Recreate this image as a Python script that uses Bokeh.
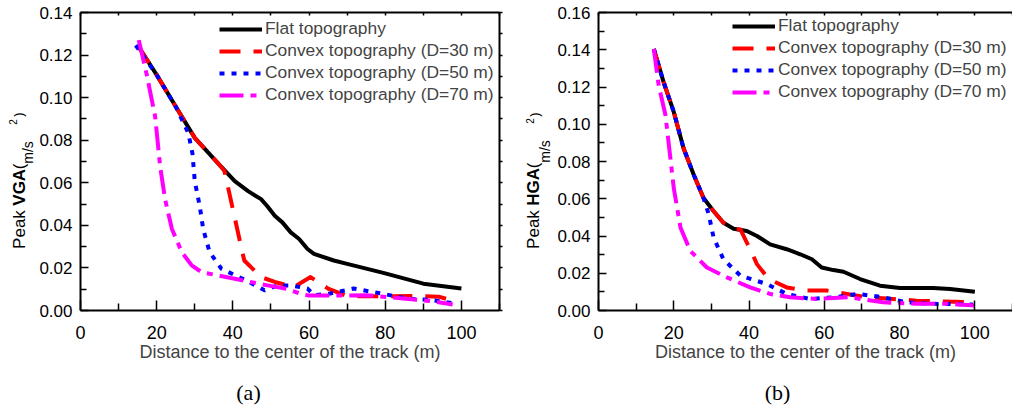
import math
from bokeh.plotting import figure
from bokeh.layouts import row, column
from bokeh.models import (Range1d, LinearAxis, FixedTicker, Label, Legend,
                          LegendItem, NumeralTickFormatter, CustomJSTickFormatter)
from bokeh.embed import file_html
from bokeh.resources import INLINE

# ---------------- data ----------------
x_ticks = [0, 20, 40, 60, 80, 100]
x_minor = [10, 30, 50, 70, 90, 110]
y_ticks_a = [0.00, 0.02, 0.04, 0.06, 0.08, 0.10, 0.12, 0.14]
y_ticks_b = [0.00, 0.02, 0.04, 0.06, 0.08, 0.10, 0.12, 0.14, 0.16]

series_names = ["Flat topography", "Convex topography (D=30 m)",
                "Convex topography (D=50 m)", "Convex topography (D=70 m)"]
captions = ["(a)", "(b)"]

# (a) Peak VGA
flat_x_a = [15, 20, 25, 30, 36, 40.5, 44, 47.4, 49, 51, 53, 55.2, 57.4, 59.6, 61.3, 66.5, 70, 79.5, 90, 100]
flat_y_a = [0.1246, 0.1107, 0.0958, 0.0811, 0.0694, 0.0608, 0.0561, 0.0523, 0.0491, 0.0445, 0.0414,
            0.0367, 0.0336, 0.0289, 0.0266, 0.0235, 0.0219, 0.0177, 0.0126, 0.0103]
d30_x_a = [15, 20, 25, 30, 36, 37.8, 42, 43, 47.4, 51, 56, 60.4, 65, 70, 80, 88, 94, 98]
d30_y_a = [0.1246, 0.1107, 0.0958, 0.0811, 0.0694, 0.0655, 0.0313, 0.0235, 0.0157, 0.0134, 0.0110,
           0.0157, 0.0103, 0.0067, 0.0067, 0.0068, 0.0065, 0.0045]
d50_x_a = [14.5, 20, 25, 28.3, 29.4, 30, 31.3, 32.2, 33.9, 37, 43.5, 48.3, 51.7, 55.2, 59.6, 61.3,
           65.6, 71.7, 79, 85.6, 92, 98.2]
d50_y_a = [0.1246, 0.1107, 0.0958, 0.0834, 0.0737, 0.0608, 0.0491, 0.0383, 0.0274, 0.0196, 0.0141,
           0.0095, 0.0118, 0.0118, 0.0103, 0.0072, 0.0080, 0.0103, 0.0080, 0.0056, 0.0049, 0.0033]
d70_x_a = [15.3, 17.4, 19.6, 20.9, 22.2, 24, 26.6, 29.2, 31.8, 40.5, 49.1, 53.7, 57.8, 60, 66.5,
           75, 84, 93, 97.7]
d70_y_a = [0.127, 0.1107, 0.0911, 0.0678, 0.0523, 0.0383, 0.0274, 0.0212, 0.018, 0.0149, 0.0118,
           0.0103, 0.0079, 0.007, 0.007, 0.0072, 0.0058, 0.0042, 0.0028]

# (b) Peak HGA
flat_x_b = [14.7, 17.3, 20, 22.6, 25.3, 27.9, 30.6, 33.2, 35.9, 39.4, 42.1, 45.6, 50, 53.6, 56.7,
            59.3, 62.4, 65.1, 69.5, 74.8, 80.1, 88.9, 93.4, 100]
flat_y_b = [0.1404, 0.1226, 0.1066, 0.0871, 0.0729, 0.0604, 0.0533, 0.0471, 0.0439, 0.0427, 0.040,
            0.0355, 0.0329, 0.0302, 0.0275, 0.0231, 0.0217, 0.0208, 0.0169, 0.0133, 0.0121, 0.0121,
            0.0116, 0.0101]
d30_x_b = [14.7, 17.3, 20, 22.6, 25.3, 27.9, 30.6, 33.2, 35.9, 37.7, 40.3, 42.1, 45.2, 50, 55.3,
           60.6, 66, 71.2, 75.6, 84.5, 91.5, 99.9]
d30_y_b = [0.1404, 0.1226, 0.1066, 0.0871, 0.0729, 0.0604, 0.0533, 0.0471, 0.0439, 0.0435, 0.0329,
           0.0249, 0.0169, 0.0124, 0.0107, 0.0107, 0.0089, 0.0071, 0.0066, 0.0053, 0.0048, 0.0044]
d50_x_b = [14.7, 17.3, 20, 22.6, 25.3, 27.9, 29.3, 30.6, 33.2, 37.7, 44.7, 50, 56.2, 63, 69, 75.6,
           81.8, 88.9, 99.5]
d50_y_b = [0.1404, 0.1226, 0.1066, 0.0871, 0.0729, 0.0604, 0.0515, 0.039, 0.0275, 0.0187, 0.0142,
           0.0089, 0.0062, 0.0071, 0.0089, 0.0071, 0.0044, 0.0036, 0.0032]
d70_x_b = [14.7, 16, 17.8, 19.1, 20, 21.8, 24.4, 28.8, 34.1, 40.3, 45.6, 50.9, 57.9, 66.7, 75.6,
           84.5, 93.4, 100]
d70_y_b = [0.1404, 0.1208, 0.1048, 0.0817, 0.0657, 0.0444, 0.032, 0.0231, 0.0178, 0.0124, 0.0089,
           0.0071, 0.0062, 0.0071, 0.0044, 0.0036, 0.0036, 0.0027]

FONT = "Liberation Sans"
W = 1012
H = 408          # whole page
H_TOP = 374      # plots row
H_CAP = H - H_TOP


def make_panel(xs, ys, y_max, y_ticks, width, min_left, min_right, min_top, min_bottom,
               legend_loc, right_axis):
    p = figure(width=width, height=H_TOP, output_backend="svg", toolbar_location=None,
               x_range=Range1d(0, 110), y_range=Range1d(0, y_max),
               min_border_left=min_left, min_border_right=min_right,
               min_border_top=min_top, min_border_bottom=min_bottom,
               x_axis_location=None, y_axis_location=None)
    p.outline_line_color = None
    p.xgrid.visible = False
    p.ygrid.visible = False
    y_minor = [round(t + 0.01, 3) for t in y_ticks]
    blank = CustomJSTickFormatter(code="return ''")

    def style(ax, labels, fs):
        ax.axis_line_width = 2
        ax.axis_line_color = "black"
        ax.major_tick_line_width = 1.5
        ax.minor_tick_line_width = 1.5
        ax.major_label_text_font = FONT
        ax.major_label_text_font_size = fs
        ax.major_label_text_color = "black"
        if not labels:
            ax.formatter = blank

    bottom = LinearAxis(ticker=FixedTicker(ticks=x_ticks, minor_ticks=x_minor))
    style(bottom, True, "18px")
    bottom.major_tick_in, bottom.major_tick_out = 10, 0
    bottom.minor_tick_in, bottom.minor_tick_out = 7, 0
    bottom.major_label_standoff = 15
    bottom.axis_label = "Distance to the center of the track (m)"
    bottom.axis_label_text_font = FONT
    bottom.axis_label_text_font_size = "18px"
    bottom.axis_label_text_font_style = "normal"
    bottom.axis_label_standoff = 0
    p.add_layout(bottom, "below")

    left = LinearAxis(ticker=FixedTicker(ticks=y_ticks, minor_ticks=y_minor),
                      formatter=NumeralTickFormatter(format="0.00"))
    style(left, True, "17px")
    left.major_tick_in, left.major_tick_out = 8, 0
    left.minor_tick_in, left.minor_tick_out = 6, 0
    left.major_label_standoff = 8
    p.add_layout(left, "left")

    top = LinearAxis(ticker=FixedTicker(ticks=x_ticks, minor_ticks=x_minor))
    style(top, False, "17px")
    top.major_tick_in, top.major_tick_out = 3, 0
    top.minor_tick_in, top.minor_tick_out = 3, 0
    top.major_label_standoff = 0
    p.add_layout(top, "above")

    if right_axis:
        right = LinearAxis(ticker=FixedTicker(ticks=y_ticks, minor_ticks=y_minor))
        style(right, False, "17px")
        right.major_tick_in, right.major_tick_out = 0, 3
        right.minor_tick_in, right.minor_tick_out = 0, 3
        right.major_label_standoff = 0
        p.add_layout(right, "right")

    colors = ["black", "#ff0000", "#0000ff", "#ff00ff"]
    dashes = ["solid", "21 13", "5 7", "24 7 6 7"]
    rends = []
    for x, y, c, d in zip(xs, ys, colors, dashes):
        rends.append(p.line(x, y, line_color=c, line_width=4, line_dash=d, line_join="round"))

    legend = Legend(items=[LegendItem(label=n, renderers=[r]) for n, r in zip(series_names, rends)],
                    location=legend_loc, orientation="vertical",
                    label_text_font=FONT, label_text_font_size="17.4px",
                    glyph_width=43, glyph_height=20, label_height=20, label_standoff=3,
                    spacing=1, padding=0, margin=0,
                    border_line_color=None, background_fill_alpha=0)
    p.add_layout(legend)
    return p


def text_strip(width, height, top, bottom_border, y_top_px):
    """Axis-less figure whose ranges are page pixels, used only to hold text."""
    f = figure(width=width, height=height, output_backend="svg", toolbar_location=None,
               x_range=Range1d(0, width),
               y_range=Range1d(y_top_px + height - top - bottom_border, y_top_px),
               min_border_left=0, min_border_right=0,
               min_border_top=top, min_border_bottom=bottom_border,
               x_axis_location=None, y_axis_location=None)
    f.outline_line_color = None
    f.xgrid.visible = False
    f.ygrid.visible = False
    f.background_fill_color = None
    f.border_fill_color = None
    return f


def make_ylabel(width, top, bottom_border, qty, base_x, start_y, sub_x, sup2_x, sup2_y,
                par_x, par_y):
    # frame rows match the neighbouring plot; x values are centre lines of rotated text
    f = text_strip(width, H_TOP, top, bottom_border, top)
    w_q = 36.8 if qty == "VGA" else 37.8
    y1 = start_y - 43.5
    y2 = y1 - w_q
    pieces = [
        ("Peak ", base_x, start_y, "17px", "normal"),
        (qty, base_x, y1, "17px", "bold"),
        ("(", base_x, y2, "17px", "normal"),
        ("m/s", sub_x, y2 - 5.5, "14px", "normal"),
        ("2", sup2_x, sup2_y, "10px", "normal"),
        (")", par_x, par_y, "13px", "normal"),
    ]
    for t, x, y, fs, st in pieces:
        f.add_layout(Label(x=x, y=y, text=t, angle=math.pi / 2, text_align="left",
                           text_baseline="middle", text_font=FONT, text_font_size=fs,
                           text_font_style=st, text_color="black"))
    return f


ya = make_ylabel(36, 12, H_TOP - 312, "VGA", 19, 250, 27, 12.5, 125, 17.5, 117)
pa = make_panel([flat_x_a, d30_x_a, d50_x_a, d70_x_a], [flat_y_a, d30_y_a, d50_y_a, d70_y_a],
                0.14, y_ticks_a, 470, 42, 7, 12, H_TOP - 312, (139, 205), True)
yb = make_ylabel(48, 10, H_TOP - 310, "HGA", 27, 248, 38, 23.5, 122, 27.5, 115)
pb = make_panel([flat_x_b, d30_x_b, d50_x_b, d70_x_b], [flat_y_b, d30_y_b, d50_y_b, d70_y_b],
                0.16, y_ticks_b, 458, 44, 0, 10, H_TOP - 310, (134, 208), False)

# caption strip below the plots: page pixel coordinates
cap = text_strip(W, H_CAP, 0, 0, H_TOP)
for t, cx in zip(captions, [248, 777]):
    cap.add_layout(Label(x=cx, y=392, text=t, text_align="center", text_baseline="middle",
                         text_font="Liberation Serif", text_font_size="22px",
                         text_color="black"))

layout = column(row(ya, pa, yb, pb), cap)
open("out.html", "w").write(file_html(layout, INLINE))
